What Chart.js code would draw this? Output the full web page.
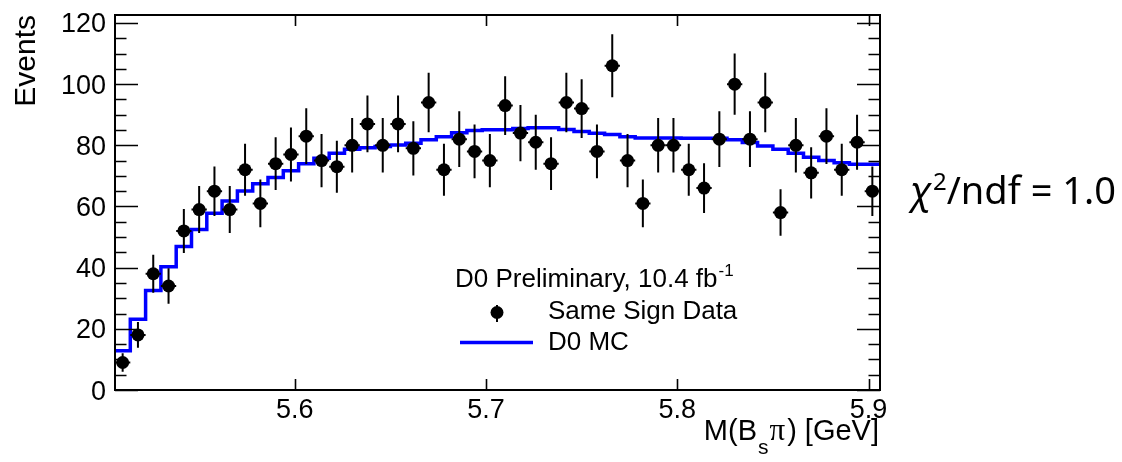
<!DOCTYPE html>
<html><head><meta charset="utf-8">
<script src="https://cdn.jsdelivr.net/npm/chart.js@4.4.1/dist/chart.umd.min.js"></script>
<style>html,body{margin:0;padding:0;background:#fff;overflow:hidden}canvas{display:block}</style>
</head><body>
<canvas id="c" width="1122" height="462"></canvas>
<script>
// ---- data ----
const massCenters = [5.510,5.518,5.526,5.534,5.542,5.550,5.558,5.566,5.574,5.582,
  5.590,5.598,5.606,5.614,5.622,5.630,5.638,5.646,5.654,5.662,
  5.670,5.678,5.686,5.694,5.702,5.710,5.718,5.726,5.734,5.742,
  5.750,5.758,5.766,5.774,5.782,5.790,5.798,5.806,5.814,5.822,
  5.830,5.838,5.846,5.854,5.862,5.870,5.878,5.886,5.894,5.902];
const binWidth = 0.008;
const sameSignCounts = [9,18,38,34,52,59,65,59,72,61,
  74,77,83,75,73,80,87,80,87,79,
  94,72,82,78,75,93,84,81,74,94,
  92,78,106,75,61,80,80,72,66,82,
  100,82,94,58,80,71,83,72,81,65];
const countErrors = [3.0,4.2,6.2,5.8,7.2,7.7,8.1,7.7,8.5,7.8,
  8.6,8.8,9.1,8.7,8.5,8.9,9.3,8.9,9.3,8.9,
  9.7,8.5,9.1,8.8,8.7,9.6,9.2,9.0,8.6,9.7,
  9.6,8.8,10.3,8.7,7.8,8.9,8.9,8.5,8.1,9.1,
  10.0,9.1,9.7,7.6,8.9,8.4,9.1,8.5,9.0,8.1];
const mcPrediction = [12.8,23.1,32.5,40.3,46.9,52.5,57.8,61.8,65.1,67.4,
  69.5,71.7,74.0,75.8,77.4,78.7,79.2,79.6,80.1,80.7,
  81.8,82.8,84.1,84.8,85.1,85.1,85.5,85.7,85.7,85.2,
  84.5,83.9,83.5,82.8,82.4,82.4,82.4,82.3,82.3,82.3,
  81.8,80.9,79.8,78.7,77.4,76.1,75.0,74.3,73.8,73.8];
const xTickValues = [5.6,5.7,5.8,5.9];
const xTickLabels = ['5.6','5.7','5.8','5.9'];
const yTickValues = [0,20,40,60,80,100,120];
const yTickLabels = ['0','20','40','60','80','100','120'];
const yMinorStep = 5;
const xRange = [5.506,5.906];
const yRange = [0,122.6];

// ---- tables built from the arrays ----
const dataPoints = massCenters.map((m,i)=>({x:m,y:sameSignCounts[i]}));
const mcSteps = massCenters.map((m,i)=>({x:m-binWidth/2,y:mcPrediction[i]}));
mcSteps.push({x:massCenters[massCenters.length-1]+binWidth/2,y:mcPrediction[mcPrediction.length-1]});
const baseline = [{x:xRange[0],y:0},{x:xRange[1],y:0}];

const FONT = '"Liberation Sans", Arial, Helvetica, sans-serif';
const BLUE = '#0000ff';

const rootPlugin = {
  id:'rootStyle',
  afterDatasetDraw(chart,args){
    if(args.index!==1) return;
    const {ctx, chartArea:a, scales:{x,y}} = chart;
    ctx.save();
    ctx.beginPath(); ctx.rect(a.left,a.top,a.right-a.left,a.bottom-a.top); ctx.clip();
    ctx.strokeStyle='#000'; ctx.lineWidth=2;
    massCenters.forEach((m,i)=>{
      const v=sameSignCounts[i], e=countErrors[i];
      const px=x.getPixelForValue(m), py=y.getPixelForValue(v);
      ctx.beginPath();
      ctx.moveTo(px,y.getPixelForValue(v-e)); ctx.lineTo(px,y.getPixelForValue(v+e));
      ctx.moveTo(x.getPixelForValue(m-binWidth/2),py); ctx.lineTo(x.getPixelForValue(m+binWidth/2),py);
      ctx.stroke();
    });
    ctx.restore();
  },
  afterDatasetsDraw(chart){
    const {ctx, chartArea:a, scales:{x,y}} = chart;
    ctx.save();
    ctx.strokeStyle='#000'; ctx.lineWidth=2;
    ctx.strokeRect(a.left,a.top,a.right-a.left,a.bottom-a.top);
    ctx.lineWidth=1.6;
    ctx.beginPath();
    for(let v=yRange[0]; v<=yRange[1]; v+=yMinorStep){
      const py=Math.round(y.getPixelForValue(v))+0.5;
      const major = yTickValues.includes(v);
      const len = major?23:11.5;
      ctx.moveTo(a.left,py); ctx.lineTo(a.left+len,py);
      ctx.moveTo(a.right,py); ctx.lineTo(a.right-len,py);
    }
    xTickValues.forEach(v=>{
      const px=Math.round(x.getPixelForValue(v))+0.5;
      ctx.moveTo(px,a.bottom); ctx.lineTo(px,a.bottom-11);
      ctx.moveTo(px,a.top); ctx.lineTo(px,a.top+11);
    });
    ctx.stroke();
    ctx.restore();
  },
  afterDraw(chart){
    const {ctx, chartArea:a, scales:{x,y}} = chart;
    ctx.save();
    ctx.fillStyle='#000';
    // y tick labels
    ctx.font='27px '+FONT; ctx.textAlign='right'; ctx.textBaseline='alphabetic';
    yTickValues.forEach((v,i)=>{ ctx.fillText(yTickLabels[i], a.left-9, y.getPixelForValue(v)+9.5); });
    // x tick labels
    ctx.textAlign='center';
    xTickValues.forEach((v,i)=>{ ctx.fillText(xTickLabels[i], x.getPixelForValue(v), a.bottom+28); });
    // y title
    ctx.save();
    ctx.translate(35,a.top); ctx.rotate(-Math.PI/2);
    ctx.font='30px '+FONT; ctx.textAlign='right';
    ctx.fillText('Events',0,0);
    ctx.restore();
    // x title  M(B_s π) [GeV]
    ctx.textAlign='left';
    const big='29px '+FONT, sub='21px '+FONT, greek='31px "Liberation Serif", "DejaVu Serif", serif';
    const base=440;
    ctx.font=big; const w1=ctx.measureText('M(B').width;
    ctx.font=sub; const w2=ctx.measureText('s').width;
    ctx.font=greek; const w3=ctx.measureText('\u03c0').width;
    ctx.font=big; const w4=ctx.measureText(') [GeV]').width;
    let tx = 879 - (w1+w2+w3+w4+4);
    ctx.font=big; ctx.fillText('M(B',tx,base); tx+=w1+1;
    ctx.font=sub; ctx.fillText('s',tx,base+14); tx+=w2+1;
    ctx.font=greek; ctx.fillText('\u03c0',tx,base); tx+=w3+2;
    ctx.font=big; ctx.fillText(') [GeV]',tx,base);
    // legend
    ctx.font='26px '+FONT;
    ctx.fillText('D0 Preliminary, 10.4 fb',455,287);
    const wl=ctx.measureText('D0 Preliminary, 10.4 fb').width;
    ctx.font='17px '+FONT; ctx.fillText('-1',455+wl+1,276);
    ctx.font='26px '+FONT;
    ctx.fillText('Same Sign Data',548,319);
    ctx.fillText('D0 MC',548,350);
    ctx.strokeStyle='#000'; ctx.lineWidth=2;
    ctx.beginPath(); ctx.moveTo(497,305); ctx.lineTo(497,322); ctx.stroke();
    ctx.beginPath(); ctx.arc(497,312.5,6.5,0,Math.PI*2); ctx.fill();
    ctx.strokeStyle=BLUE; ctx.lineWidth=3.5;
    ctx.beginPath(); ctx.moveTo(460,342.5); ctx.lineTo(533,342.5); ctx.stroke();
    // chi2/ndf
    ctx.fillStyle='#000';
    const cf='"Noto Sans", "Open Sans", sans-serif';
    let cx=910; const cb=204;
    ctx.font='italic 38px '+cf; ctx.fillText('\u03c7',cx,cb); cx+=ctx.measureText('\u03c7').width+1;
    ctx.font='24px '+cf; ctx.fillText('2',cx,cb-14); cx+=ctx.measureText('2').width;
    ctx.font='38px '+cf; ctx.fillText('/ndf = 1.0',cx,cb);
    ctx.restore();
  }
};

new Chart(document.getElementById('c'),{
  type:'scatter',
  data:{datasets:[
    {label:'Same Sign Data',data:dataPoints,showLine:false,pointStyle:'circle',pointRadius:6.5,
     pointBackgroundColor:'#000',pointBorderWidth:0,pointHoverRadius:6.5},
    {label:'D0 MC',type:'line',data:mcSteps,stepped:'before',borderColor:BLUE,borderWidth:3.5,
     pointRadius:0,fill:false,tension:0},
    {label:'baseline',type:'line',data:baseline,borderColor:BLUE,borderWidth:2,pointRadius:0,fill:false}
  ]},
  options:{
    responsive:false, animation:false, devicePixelRatio:1,
    layout:{padding:{left:115,right:242,top:15,bottom:72}},
    plugins:{legend:{display:false},tooltip:{enabled:false}},
    events:[],
    scales:{
      x:{type:'linear',min:xRange[0],max:xRange[1],display:false},
      y:{type:'linear',min:yRange[0],max:yRange[1],display:false}
    }
  },
  plugins:[rootPlugin]
});
</script>
</body></html>
